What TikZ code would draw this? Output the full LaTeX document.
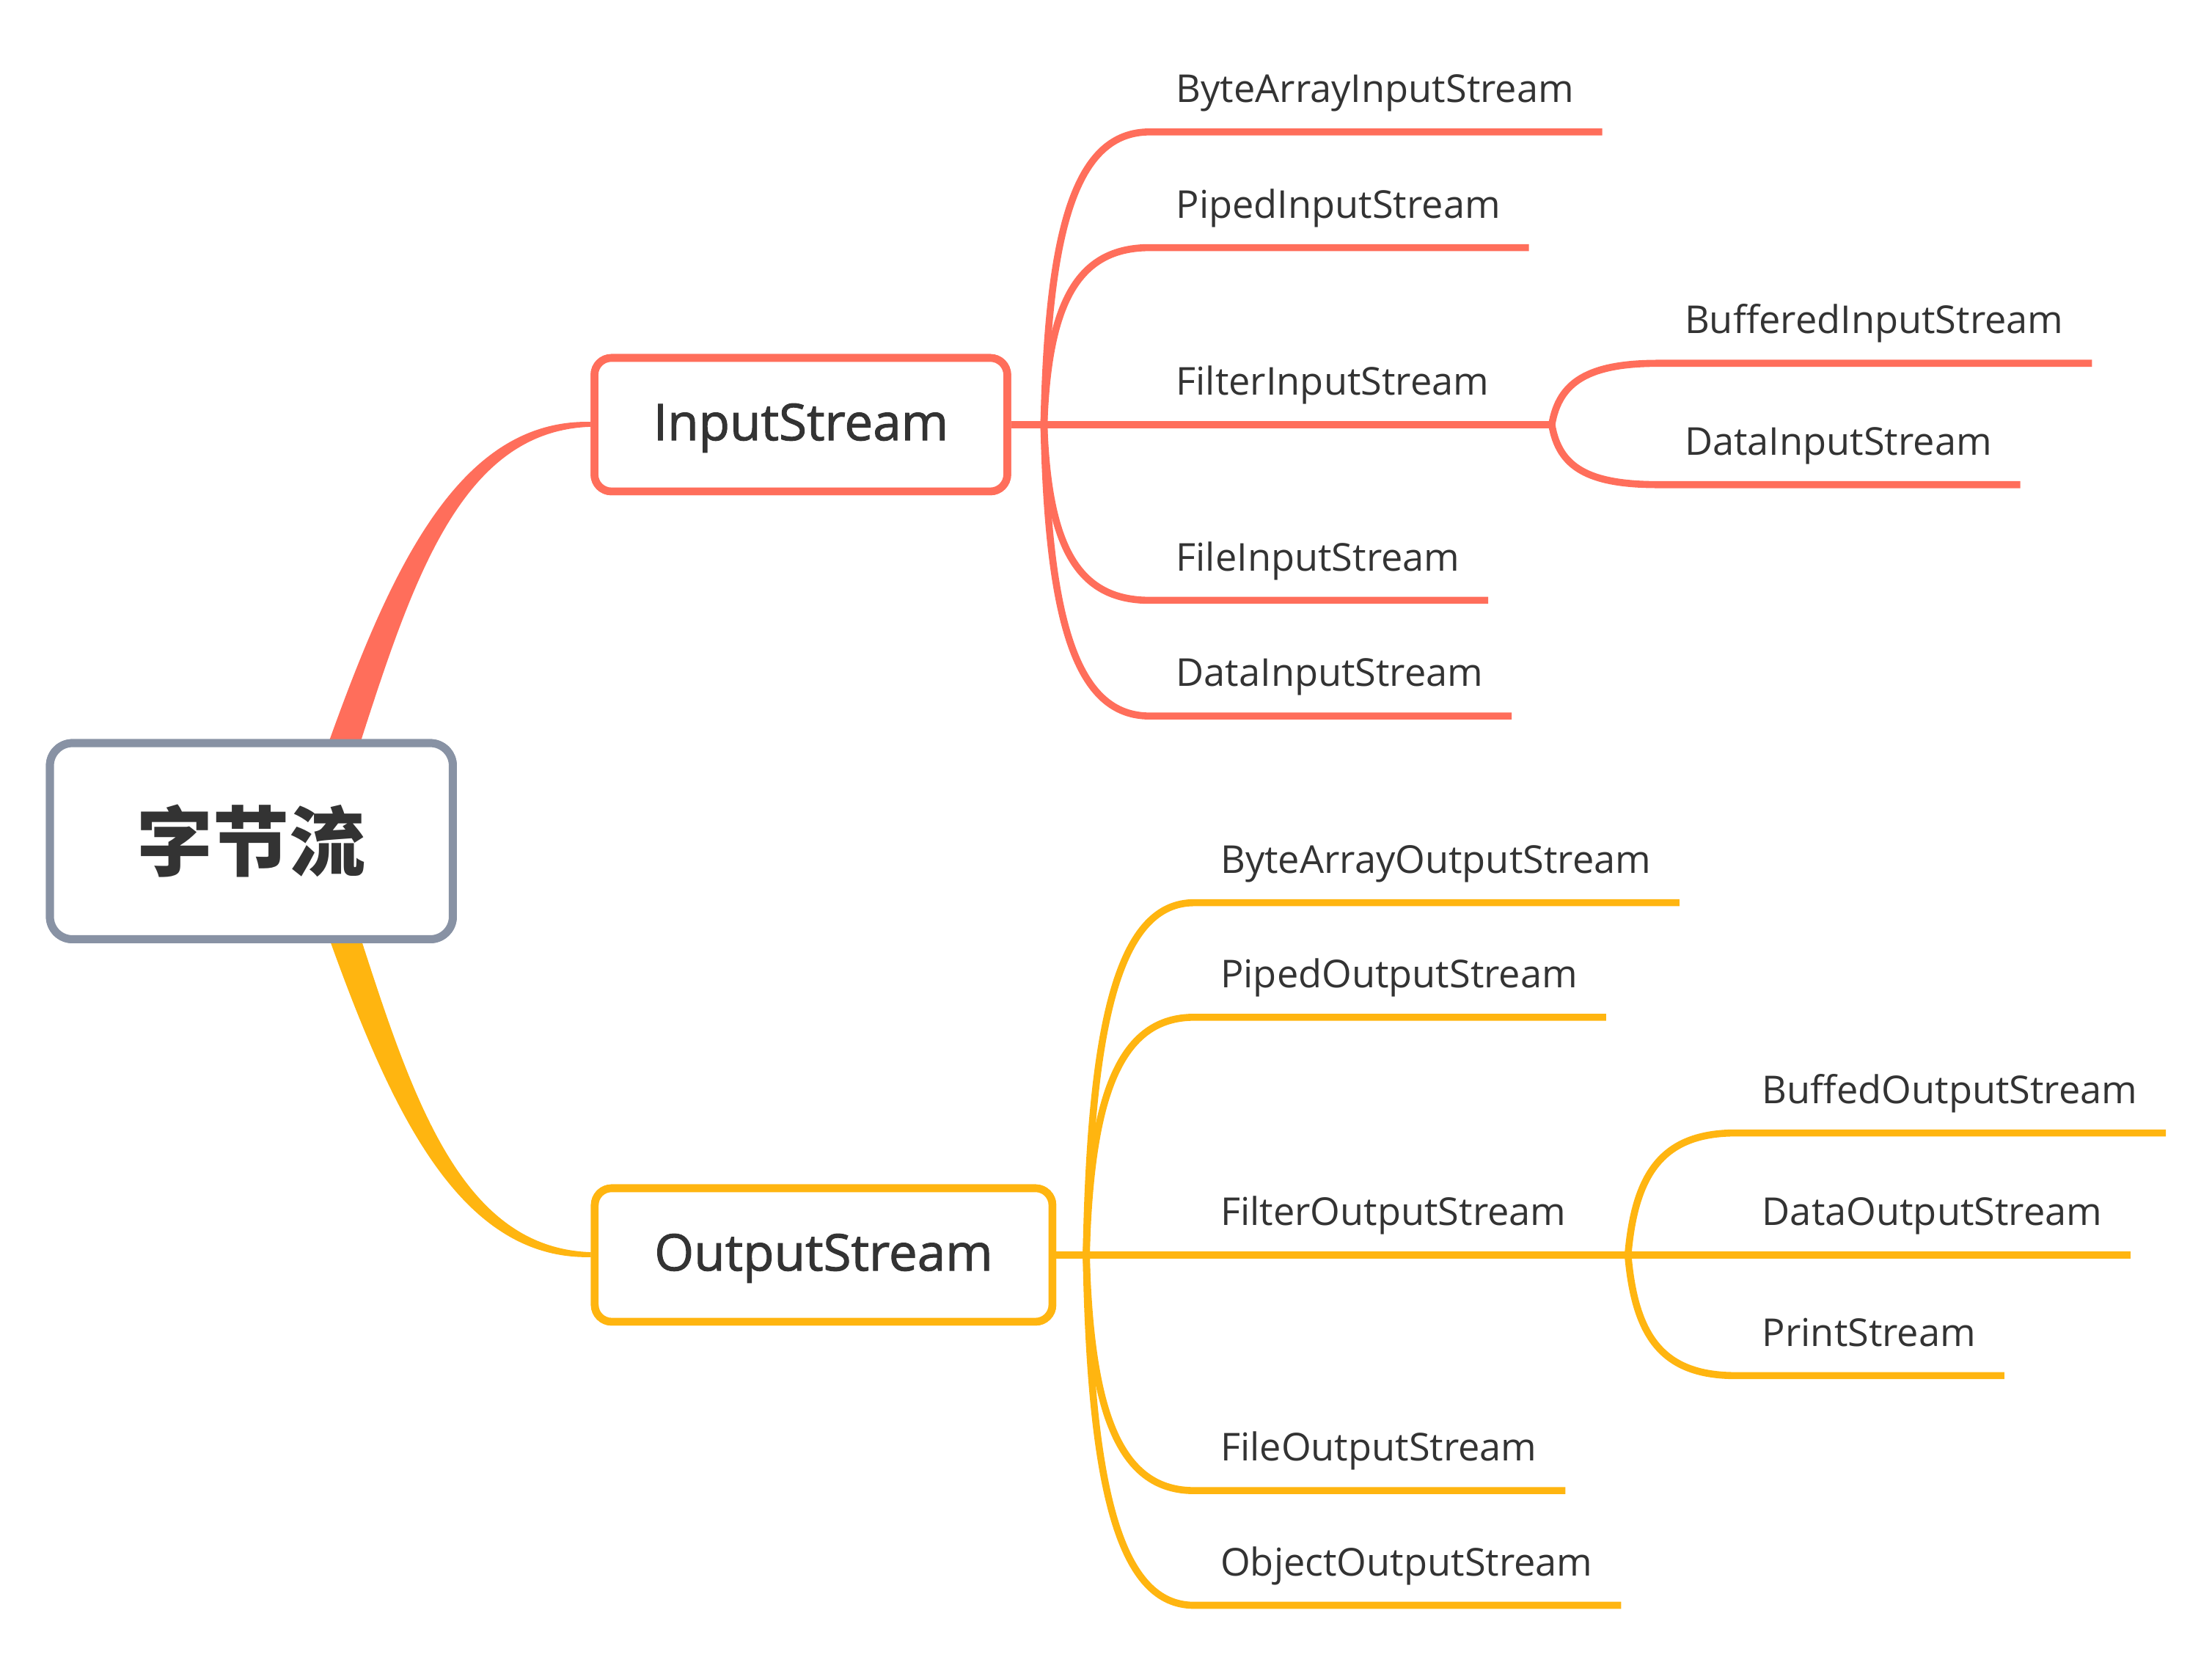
\documentclass[tikz,border=0pt]{standalone}
\usepackage{fontspec}
\setmainfont{Open Sans}
\newfontfamily\cjk{Noto Sans CJK SC}
\newfontfamily\mainlab[FakeBold=1.4]{Open Sans}
\usetikzlibrary{calc}
\definecolor{cred}{HTML}{FF6E5B}
\definecolor{cyel}{HTML}{FFB510}
\definecolor{cgray}{HTML}{8892A4}
\definecolor{ctext}{HTML}{333333}
\begin{document}
\begin{tikzpicture}[x=1pt,y=-1pt,
  rootbox/.style={draw=cgray, line width=5.7pt, rounded corners=16pt, fill=white,
    minimum width=285.6pt, minimum height=139pt, inner sep=0pt, text=ctext,
    font=\cjk\bfseries\fontsize{54}{60}\selectfont},
  mainbox/.style={line width=5.5pt, rounded corners=12pt, fill=white,
    minimum height=94.6pt, inner sep=0pt, text=ctext, text depth=4pt,
    font=\mainlab\fontsize{36}{40}\selectfont},
  leaf/.style={inner sep=0pt, anchor=base west, text=ctext,
    font=\fontsize{27.2}{30}\selectfont},
  rl/.style={draw=cred, line width=5pt},
  yl/.style={draw=cyel, line width=5pt},
]
\path[use as bounding box] (0,0) rectangle (1568,1174);

% main nodes
\node[rootbox] (root) at (178.2,596.2) {字节流};
\node[mainbox, draw=cred, minimum width=292.6pt] (in) at (567.7,301) {InputStream};
\node[mainbox, draw=cyel, minimum width=324.4pt] (out) at (583.8,889.5) {OutputStream};

% tapered main connectors (drawn behind boxes)
\fill[cred] ($(root.center)+(30,1)$) .. controls ($(root.center)+(83,-152)$) and ($(in.west)+(-110,-4.5)$) .. ($(in.west)+(0,-2)$)
  -- ($(in.west)+(0,1.5)$) .. controls ($(in.west)+(-108,5)$) and ($(root.center)+(104,-145)$) .. ($(root.center)+(54,1)$) -- cycle;
\fill[cyel] ($(root.center)+(30,-3)$) .. controls ($(root.center)+(83,150)$) and ($(out.west)+(-110,4)$) .. ($(out.west)+(0,1.5)$)
  -- ($(out.west)+(0,-2)$) .. controls ($(out.west)+(-108,-5.5)$) and ($(root.center)+(104,143)$) .. ($(root.center)+(54,-3)$) -- cycle;
% redraw boxes on top
\node[rootbox] at (root.center) {字节流};
\node[mainbox, draw=cred, minimum width=292.6pt] at (in.center) {InputStream};
\node[mainbox, draw=cyel, minimum width=324.4pt] at (out.center) {OutputStream};

% ---------- InputStream branch ----------
\coordinate (jin) at (740,301);
\coordinate (jsin) at (1100,301);
\node[leaf] (bais) at (833.5,72.5) {ByteArrayInputStream};
\node[leaf] (pis)  at (833.5,154.5) {PipedInputStream};
\node[leaf] (filt) at (833.5,280) {FilterInputStream};
\node[leaf] (fis)  at (833.5,404.5) {FileInputStream};
\node[leaf] (dis)  at (833.5,486.5) {DataInputStream};
\node[leaf] (bis)  at (1194,236.5) {BufferedInputStream};
\node[leaf] (dis2) at (1194,322.5) {DataInputStream};

\draw[rl] (in.east) -- (jin) -- (jsin);
\draw[rl] (jin) .. controls +(3,-141) and +(-52,0) .. ($(bais.base west)+(-18.5,21)$) -- ($(bais.base east)+(20,21)$);
\draw[rl] (jin) .. controls +(3,-85) and +(-52,0) .. ($(pis.base west)+(-18.5,21)$) -- ($(pis.base east)+(20,21)$);
\draw[rl] (jin) .. controls +(3,85) and +(-52,0) .. ($(fis.base west)+(-18.5,21)$) -- ($(fis.base east)+(20,21)$);
\draw[rl] (jin) .. controls +(3,140) and +(-52,0) .. ($(dis.base west)+(-18.5,21)$) -- ($(dis.base east)+(20,21)$);
\draw[rl] (jsin) .. controls +(5,-30) and +(-50,0) .. ($(bis.base west)+(-18.5,21)$) -- ($(bis.base east)+(20,21)$);
\draw[rl] (jsin) .. controls +(5,30) and +(-50,0) .. ($(dis2.base west)+(-18.5,21)$) -- ($(dis2.base east)+(20,21)$);

% ---------- OutputStream branch ----------
\coordinate (jout) at (770,889.5);
\coordinate (jsout) at (1154,889.5);
\node[leaf] (baos) at (865,618.8) {ByteArrayOutputStream};
\node[leaf] (pos)  at (865,700) {PipedOutputStream};
\node[leaf] (filo) at (865,868.5) {FilterOutputStream};
\node[leaf] (fos)  at (865,1035.5) {FileOutputStream};
\node[leaf] (oos)  at (865,1116.8) {ObjectOutputStream};
\node[leaf] (bos)  at (1249,782) {BuffedOutputStream};
\node[leaf] (dos)  at (1249,868.5) {DataOutputStream};
\node[leaf] (ps)   at (1249,954) {PrintStream};

\draw[yl] (out.east) -- (jout) -- (jsout) -- ($(dos.base east)+(20,21)$);
\draw[yl] (jout) .. controls +(3,-170) and +(-52,0) .. ($(baos.base west)+(-18.5,21)$) -- ($(baos.base east)+(20,21)$);
\draw[yl] (jout) .. controls +(3,-115) and +(-52,0) .. ($(pos.base west)+(-18.5,21)$) -- ($(pos.base east)+(20,21)$);
\draw[yl] (jout) .. controls +(3,114) and +(-52,0) .. ($(fos.base west)+(-18.5,21)$) -- ($(fos.base east)+(20,21)$);
\draw[yl] (jout) .. controls +(3,169) and +(-52,0) .. ($(oos.base west)+(-18.5,21)$) -- ($(oos.base east)+(20,21)$);
\draw[yl] (jsout) .. controls +(5,-58) and +(-52,0) .. ($(bos.base west)+(-18.5,21)$) -- ($(bos.base east)+(20,21)$);
\draw[yl] (jsout) .. controls +(5,58) and +(-52,0) .. ($(ps.base west)+(-18.5,21)$) -- ($(ps.base east)+(20,21)$);
\end{tikzpicture}
\end{document}
